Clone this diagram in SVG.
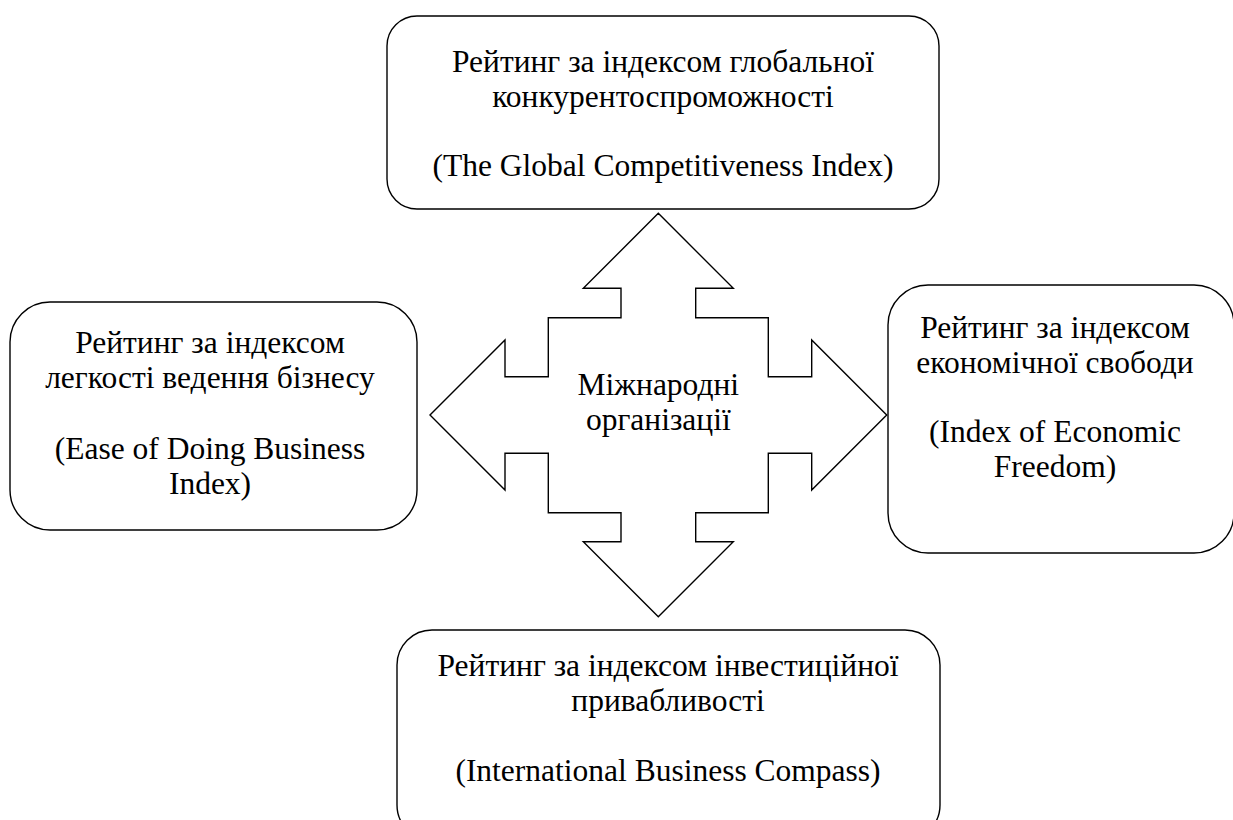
<svg xmlns="http://www.w3.org/2000/svg" width="1233" height="820" viewBox="0 0 1233 820">
<style>
.box{fill:#fff;stroke:#000;stroke-width:1.4}
text{font-family:'Liberation Serif','Times New Roman',serif;font-size:31.5px;fill:#000;text-anchor:middle}
</style>
<rect width="1233" height="820" fill="#fff"/>
<g id="connectors">
<path class="box" d="M658.3,213.3 L733.3,288.3 L695.7,288.3 L695.7,317.7 L768.3,317.7 L768.3,376.7 L811.7,376.7 L811.7,340 L886.7,415 L811.7,490 L811.7,453.3 L768.3,453.3 L768.3,512.7 L695.7,512.7 L695.7,541.7 L733.3,541.7 L658.3,616.7 L583.3,541.7 L621,541.7 L621,512.7 L548.3,512.7 L548.3,453.3 L505,453.3 L505,490 L430,415 L505,340 L505,376.7 L548.3,376.7 L548.3,317.7 L621,317.7 L621,288.3 L583.3,288.3 Z"/>
</g>
<g id="center">
<text x="658.3" y="395">Міжнародні</text>
<text x="658.3" y="430">організації</text>
</g>
<g id="top">
<rect class="box" x="387" y="16" width="552" height="193" rx="30" ry="30"/>
<text x="663" y="72">Рейтинг за індексом глобальної</text>
<text x="663" y="107">конкурентоспроможності</text>
<text x="663" y="176">(The Global Competitiveness Index)</text>
</g>
<g id="left">
<rect class="box" x="10" y="302" width="407" height="228" rx="40" ry="40"/>
<text x="210" y="353">Рейтинг за індексом</text>
<text x="210" y="388">легкості ведення бізнесу</text>
<text x="210" y="459">(Ease of Doing Business</text>
<text x="210" y="494">Index)</text>
</g>
<g id="right">
<rect class="box" x="888" y="285" width="346" height="268" rx="40" ry="40"/>
<text x="1055" y="338">Рейтинг за індексом</text>
<text x="1055" y="373">економічної свободи</text>
<text x="1055" y="442">(Index of Economic</text>
<text x="1055" y="477">Freedom)</text>
</g>
<g id="bottom">
<rect class="box" x="397" y="630" width="543" height="210" rx="35" ry="35"/>
<text x="668" y="676">Рейтинг за індексом інвестиційної</text>
<text x="668" y="711">привабливості</text>
<text x="668" y="781">(International Business Compass)</text>
</g>
</svg>
